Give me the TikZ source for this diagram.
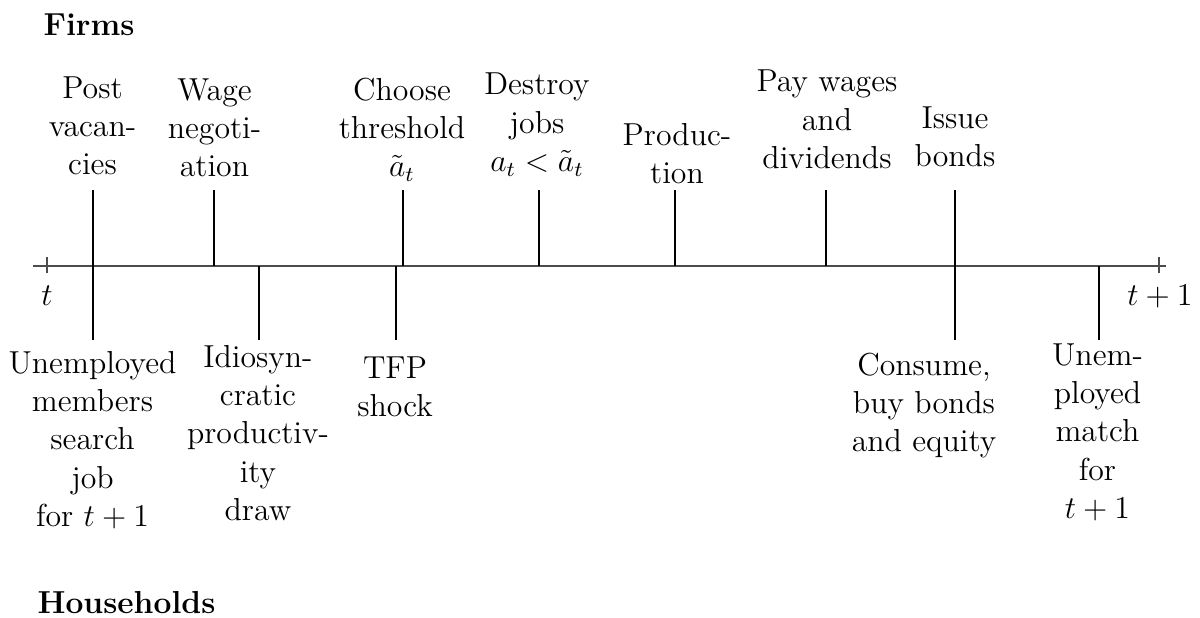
\documentclass[tikz,border=0pt]{standalone}
\usepackage{fontspec}
\newcommand{\stk}[1]{\begin{tabular}[t]{@{}c@{}}#1\end{tabular}}
\begin{document}
\begin{tikzpicture}[x=0.37736pt,y=-0.37736pt,
  lbl/.style={anchor=base, inner sep=0pt},
  head/.style={anchor=base west, inner sep=0pt, font=\fontsize{12}{14.5}\selectfont\bfseries},
  ev/.style={line width=0.75pt, black},
  evthin/.style={line width=0.4pt, black},
  axisline/.style={line width=0.4pt, black!70},
  every node/.append style={font=\fontsize{12}{14.5}\selectfont}]
\useasboundingbox (0,0) rectangle (1200,618);
% axis
\coordinate (aL) at (33,266);
\coordinate (aR) at (1166,266);
\draw[axisline] (aL) -- (aR);
\coordinate (t0T) at (47,257); \coordinate (t0B) at (47,273);
\coordinate (t1T) at (1159,257); \coordinate (t1B) at (1159,273);
\draw[axisline] (t0T) -- (t0B);
\draw[axisline] (t1T) -- (t1B);
\node[lbl] (tl) at (47,305) {$t$};
\node[lbl] (t1l) at (1160,305) {$t+1$};
% headings
\node[head] (firms) at (43,35) {Firms};
\node[head] (hh) at (37,613) {Households};
% coordinates for event lines
\coordinate (pvT) at (93,190); \coordinate (pvA) at (93,266); \coordinate (pvB) at (93,340);
\coordinate (wnT) at (214,190); \coordinate (wnA) at (214,266);
\coordinate (idA) at (259,266); \coordinate (idB) at (259,340);
\coordinate (ctT) at (403,190); \coordinate (ctA) at (403,266);
\coordinate (tfA) at (396,266); \coordinate (tfB) at (396,340);
\coordinate (djT) at (539,190); \coordinate (djA) at (539,266);
\coordinate (prT) at (675,190); \coordinate (prA) at (675,266);
\coordinate (pwT) at (826,190); \coordinate (pwA) at (826,266);
\coordinate (ibT) at (955,190); \coordinate (ibA) at (955,266); \coordinate (ibB) at (955,340);
\coordinate (umA) at (1099,266); \coordinate (umB) at (1099,340);
\draw[ev] (pvT) -- (pvA);
\draw[ev] (pvA) -- (pvB);
\draw[ev] (wnT) -- (wnA);
\draw[ev] (idA) -- (idB);
\draw[ev] (ctT) -- (ctA);
\draw[ev] (tfA) -- (tfB);
\draw[evthin] (djT) -- (djA);
\draw[ev] (prT) -- (prA);
\draw[ev] (pwT) -- (pwA);
\draw[ev] (ibT) -- (ibA);
\draw[ev] (ibA) -- (ibB);
\draw[ev] (umA) -- (umB);
% firm labels
\node[lbl] (pv) at (92.5,98) {\stk{Post\\vacan-\\cies}};
\node[lbl] (wn) at (214.5,100) {\stk{Wage\\negoti-\\ation}};
\node[lbl] (ct) at (402,100) {\stk{Choose\\threshold\\$\tilde{a}_t$}};
\node[lbl] (dj) at (537,95) {\stk{Destroy\\jobs\\$a_t<\tilde{a}_t$}};
\node[lbl] (pr) at (677,145) {\stk{Produc-\\tion}};
\node[lbl] (pw) at (827,92) {\stk{Pay wages\\and\\dividends}};
\node[lbl] (ib) at (955,128) {\stk{Issue\\bonds}};
% household labels
\node[lbl] (um1) at (92.5,373) {\stk{Unemployed\\members\\search\\job\\for $t+1$}};
\node[lbl] (id) at (258,367) {\stk{Idiosyn-\\cratic\\productiv-\\ity\\draw}};
\node[lbl] (tf) at (395,378) {\stk{TFP\\shock}};
\node[lbl] (cb) at (924,375) {\stk{Consume,\\buy bonds\\and equity}};
\node[lbl] (um2) at (1097.5,365) {\stk{Unem-\\ployed\\match\\for\\$t+1$}};
\end{tikzpicture}
\end{document}
